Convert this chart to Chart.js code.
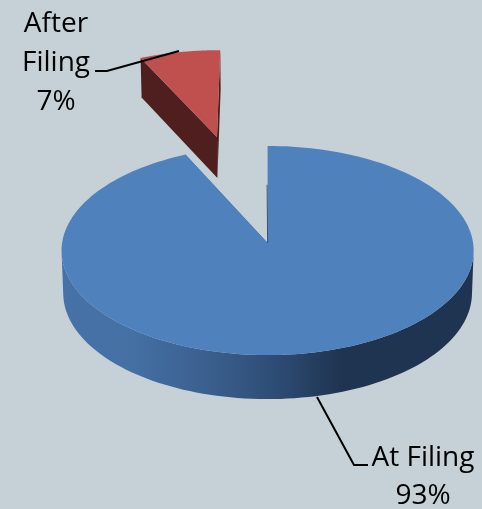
<!DOCTYPE html>
<html>
<head>
<meta charset="utf-8">
<style>
html,body{margin:0;padding:0;background:#c5d0d7;overflow:hidden}
canvas{display:block}
</style>
<script src="https://cdn.jsdelivr.net/npm/chart.js@4/dist/chart.umd.min.js"></script>
</head>
<body>
<canvas id="c" width="482" height="509"></canvas>
<script>
const categories = ['At Filing', 'After Filing'];
const shares = [93, 7];
const topColors = ['#4f81bd', '#c0504d'];
const labelLines = [['At Filing', '93%'], ['After', 'Filing', '7%']];

// Perspective view of the pie plane
const view = {x0: 267.6, y0: 243, sx: 0.9976, sy: 0.505, c: 0.0718, depth: 42.4, narrow: 0.992};
const explodeFactor = 1.13;
const explodeTilt = 1.0 * Math.PI / 180;
const explodeStretch = 1.04;

const font = '28px "Open Sans"';
const labelLayout = [
  {cx: 423, base: [466, 504], leader: [[317, 397], [354, 465], [368, 465]]},
  {cx: 56, base: [32, 71, 110], leader: [[95, 71], [107, 71], [179, 51]]}
];

const pie3d = {
  id: 'pie3d',
  beforeDatasetsDraw(chart) {
    const ctx = chart.ctx;
    const arcs = chart.getDatasetMeta(0).data;
    const project = (px, py, R) => {
      const w = 1 - view.c * py / R;
      return {x: view.x0 + view.sx * px / w, y: view.y0 + view.sy * py / w, w};
    };
    const lowered = (p) => ({
      x: view.x0 + (p.x - view.x0) * view.narrow,
      y: p.y + view.depth / Math.sqrt(p.w)
    });
    const trace = (pts) => {
      ctx.beginPath();
      pts.forEach((p, i) => i ? ctx.lineTo(p.x, p.y) : ctx.moveTo(p.x, p.y));
      ctx.closePath();
    };
    const sideGrad = ctx.createLinearGradient(62, 0, 474, 0);
    sideGrad.addColorStop(0, '#4672a8');
    sideGrad.addColorStop(0.17, '#4470a4');
    sideGrad.addColorStop(0.36, '#3a5f8d');
    sideGrad.addColorStop(0.52, '#2d4c74');
    sideGrad.addColorStop(0.68, '#1f3450');
    sideGrad.addColorStop(1, '#1f3450');
    const sideColors = [sideGrad, '#4f1f1f'];

    arcs.forEach((arc, i) => {
      const {startAngle, endAngle, outerRadius: R} = arc.getProps(['startAngle', 'endAngle', 'outerRadius'], true);
      const off = arc.options.offset || 0;
      const mid = (startAngle + endAngle) / 2 + (off ? -explodeTilt : 0);
      const ox = Math.cos(mid) * off, oy = Math.sin(mid) * off;
      const r = off ? R * explodeStretch : R;
      const steps = 180;
      const rim = [];
      for (let k = 0; k <= steps; k++) {
        const a = startAngle + (endAngle - startAngle) * k / steps;
        rim.push({p: project(ox + r * Math.cos(a), oy + r * Math.sin(a), R), front: Math.sin(a) >= view.c});
      }
      const apex = project(ox, oy, R);
      // outer wall
      const frontRim = rim.filter(q => q.front).map(q => q.p);
      if (frontRim.length > 1) {
        trace(frontRim.concat(frontRim.map(lowered).reverse()));
        ctx.fillStyle = sideColors[i];
        ctx.fill();
      }
      // radial walls
      [rim[0].p, rim[rim.length - 1].p].forEach((edge) => {
        trace([apex, edge, lowered(edge), lowered(apex)]);
        ctx.fillStyle = sideColors[i];
        ctx.fill();
      });
      // top face
      trace([apex].concat(rim.map(q => q.p)));
      ctx.fillStyle = arc.options.backgroundColor;
      ctx.fill();
      // thin inner edge in the gap
      if (!off) {
        const s = rim[0].p;
        ctx.beginPath();
        ctx.moveTo(apex.x, apex.y);
        ctx.lineTo(apex.x + (s.x - apex.x) * 0.6 - 0.5, apex.y + (s.y - apex.y) * 0.6);
        ctx.strokeStyle = 'rgba(31,52,80,0.75)';
        ctx.lineWidth = 1;
        ctx.stroke();
      }
    });
    return false;
  },
  afterDraw(chart) {
    const ctx = chart.ctx;
    ctx.save();
    ctx.fillStyle = '#000';
    ctx.strokeStyle = '#000';
    ctx.font = font;
    ctx.textAlign = 'center';
    ctx.textBaseline = 'alphabetic';
    labelLayout.forEach((l, i) => {
      labelLines[i].forEach((t, k) => ctx.fillText(t, l.cx, l.base[k]));
      ctx.beginPath();
      l.leader.forEach((p, k) => k ? ctx.lineTo(p[0], p[1]) : ctx.moveTo(p[0], p[1]));
      ctx.lineWidth = 2;
      ctx.stroke();
    });
    ctx.restore();
  }
};

new Chart(document.getElementById('c'), {
  type: 'pie',
  data: {
    labels: categories,
    datasets: [{
      data: shares,
      backgroundColor: topColors,
      borderWidth: 0,
      offset: [0, 206 * explodeFactor]
    }]
  },
  options: {
    responsive: false,
    animation: false,
    radius: 206,
    plugins: {legend: {display: false}, tooltip: {enabled: false}}
  },
  plugins: [pie3d]
});
</script>
</body>
</html>
